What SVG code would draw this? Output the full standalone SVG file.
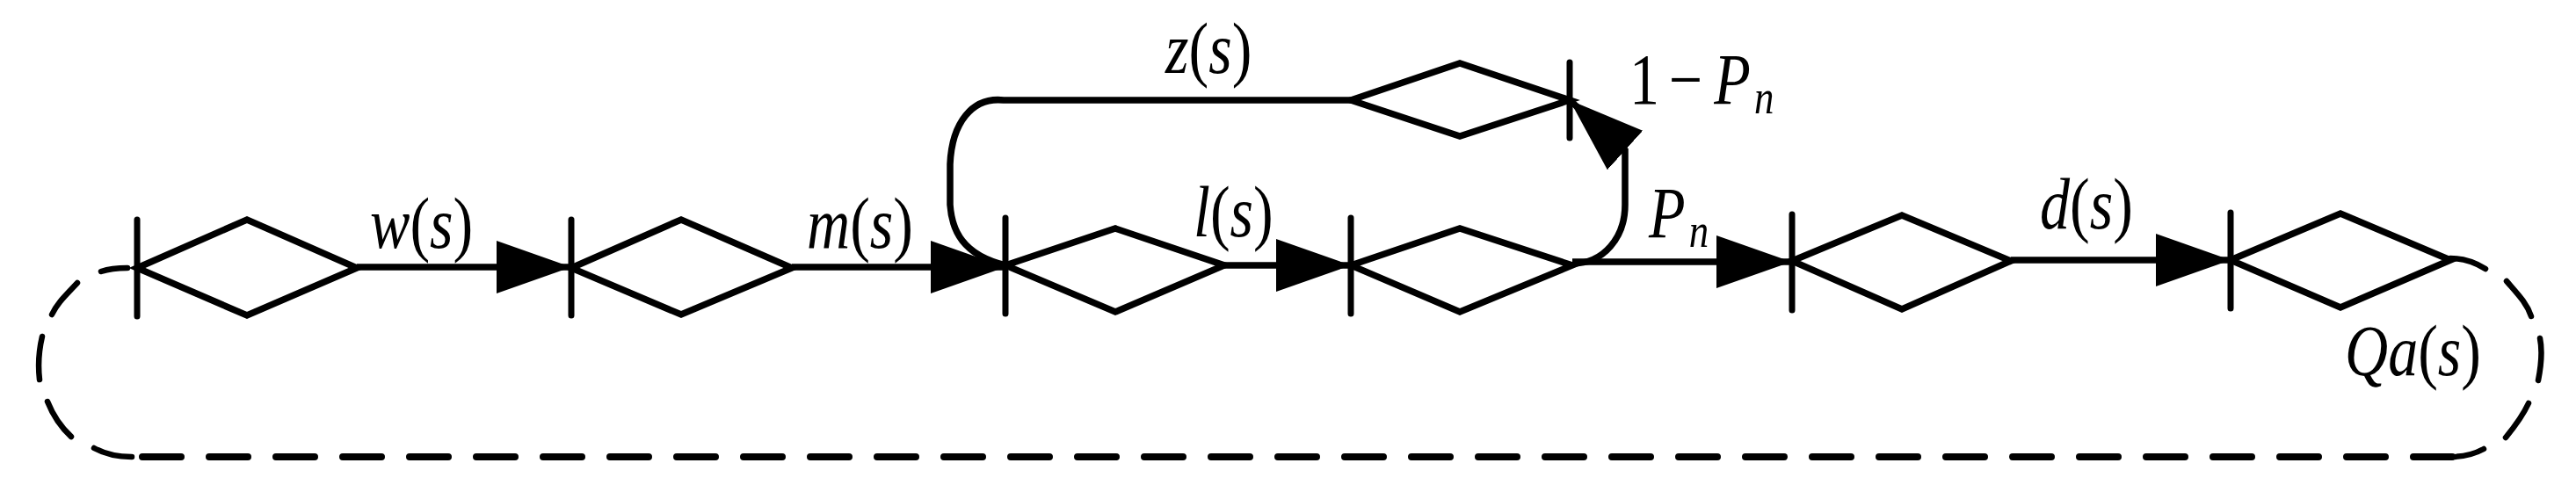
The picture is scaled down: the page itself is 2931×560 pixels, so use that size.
<svg xmlns="http://www.w3.org/2000/svg" width="2931" height="560" viewBox="0 0 2931 560">
<style>
.d{fill:none;stroke:#000;stroke-width:7.5;stroke-linejoin:miter}
.b{fill:none;stroke:#000;stroke-width:7;stroke-linecap:round}
.c{fill:none;stroke:#000;stroke-width:7.5}
.a{marker-end:url(#ah)}
.dash{fill:none;stroke:#000;stroke-width:6.5;stroke-linecap:round}
.bot{stroke-width:8}
text{font-family:"Liberation Serif","Times New Roman",serif;font-size:82px;font-style:italic;fill:#000}
.r{font-style:normal}
.s{font-size:54px}
</style>
<defs>
<marker id="ah" markerUnits="userSpaceOnUse" markerWidth="88" markerHeight="62" refX="85" refY="30" orient="auto"><path d="M0 0L85 30L0 60Z" fill="#000"/></marker>
</defs>
<rect width="2931" height="560" fill="#fff"/>
<g id="connectors">
<path class="c a" d="M406 304H650"/>
<path class="c a" d="M901 304H1144"/>
<path class="c a" d="M1393 302H1537"/>
<path class="c a" d="M1789 298H2038"/>
<path class="c a" d="M2288 296H2538"/>
<path class="c" d="M1537 114H1142C1106 110 1083 140 1081 187V233C1083 262 1095 290 1144 302"/>
<path class="c a" d="M1789 300C1825 300 1849 270 1849 233V171L1786 114"/>
<path class="dash bot" d="M162 520H2790" stroke-dasharray="44 32"/>
<path class="dash" d="M145 305C135 305 124 306 115 309M88 322C75 336 65 345 59 358M48 383C44 400 43 415 45 432M54 457C60 472 68 485 81 497M107 510C118 516 132 520 150 520"/>
<path class="dash" d="M2788 294C2803 294 2817 299 2828 306M2852 320C2865 335 2875 345 2880 360M2890 385C2893 400 2891 418 2888 433M2877 459C2871 472 2860 487 2851 498M2826 511C2815 517 2802 520 2788 520"/>
</g>
<g id="node1"><path class="d" d="M156 305L281 250L406 305L281 359Z"/><path class="b" d="M156 250V360"/></g>
<g id="node2"><path class="d" d="M650 305L775 250L901 305L775 358Z"/><path class="b" d="M650 250V359"/></g>
<g id="node3"><path class="d" d="M1144 302L1269 260L1393 302L1269 355Z"/><path class="b" d="M1144 248V357"/></g>
<g id="node4"><path class="d" d="M1537 302L1661 260L1789 302L1661 355Z"/><path class="b" d="M1537 248V357"/></g>
<g id="node5"><path class="d" d="M2039 297L2164 245L2288 297L2164 352Z"/><path class="b" d="M2039 244V353"/></g>
<g id="node6"><path class="d" d="M2538 296L2663 243L2788 296L2663 350Z"/><path class="b" d="M2538 242V351"/></g>
<g id="node7"><path class="d" d="M1537 114L1661 72L1786 114L1661 155Z"/><path class="b" d="M1786 71V157"/></g>
<g id="labels">
<text transform="translate(421 282) scale(.83 1)">w<tspan class="r">(</tspan>s<tspan class="r">)</tspan></text>
<text transform="translate(918 282) scale(.83 1)">m<tspan class="r">(</tspan>s<tspan class="r">)</tspan></text>
<text transform="translate(1326 83) scale(.83 1)">z<tspan class="r">(</tspan>s<tspan class="r">)</tspan></text>
<text transform="translate(1358 269) scale(.83 1)">l<tspan class="r">(</tspan>s<tspan class="r">)</tspan></text>
<text transform="translate(2321 260) scale(.83 1)">d<tspan class="r">(</tspan>s<tspan class="r">)</tspan></text>
<text transform="translate(2668 427) scale(.83 1)">Qa<tspan class="r">(</tspan>s<tspan class="r">)</tspan></text>
<text transform="translate(1854 118) scale(.83 1)"><tspan class="r">1</tspan><tspan class="r" x="54">−</tspan><tspan x="116">P</tspan><tspan class="s" x="171" y="11">n</tspan></text>
<text transform="translate(1876 270) scale(.83 1)">P<tspan class="s" x="55" y="11">n</tspan></text>
</g>
</svg>
